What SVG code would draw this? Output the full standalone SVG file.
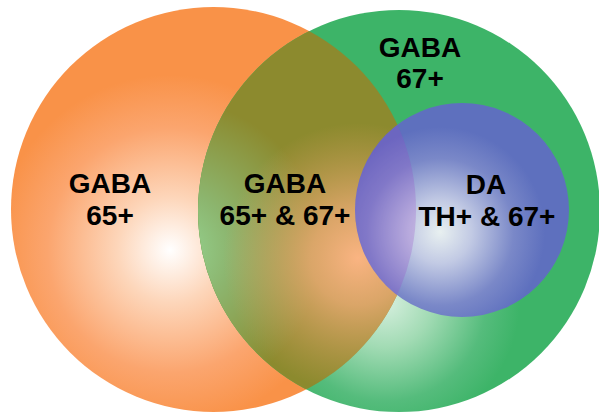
<svg xmlns="http://www.w3.org/2000/svg" width="599" height="413" viewBox="0 0 599 413">
<style>
.lbl{font-family:"Liberation Sans",Arial,sans-serif;font-weight:bold;font-size:28px;fill:#000;text-anchor:middle}
</style>
<defs>
<radialGradient id="gOrange" gradientUnits="userSpaceOnUse" cx="170" cy="250" r="175">
<stop offset="0" stop-color="#FFFFFF"/>
<stop offset="0.3" stop-color="#FDD6BA"/>
<stop offset="0.7" stop-color="#FBA56E"/>
<stop offset="1" stop-color="#F99248"/>
</radialGradient>
<radialGradient id="gGreen" gradientUnits="userSpaceOnUse" cx="385" cy="300" r="135">
<stop offset="0" stop-color="#D8F0E0"/>
<stop offset="0.35" stop-color="#A2DBB4"/>
<stop offset="0.75" stop-color="#55BC7C"/>
<stop offset="1" stop-color="#3DB468"/>
</radialGradient>
<radialGradient id="gBlue" gradientUnits="userSpaceOnUse" cx="440" cy="232" r="105">
<stop offset="0" stop-color="#E8F0F0"/>
<stop offset="0.3" stop-color="#C2CAE4"/>
<stop offset="0.7" stop-color="#7A88C8"/>
<stop offset="1" stop-color="#5E70BE"/>
</radialGradient>
<radialGradient id="gOvA" gradientUnits="userSpaceOnUse" cx="172" cy="250" r="150">
<stop offset="0" stop-color="#98DA98" stop-opacity="1"/>
<stop offset="0.4" stop-color="#8CC88A" stop-opacity="0.7"/>
<stop offset="1" stop-color="#8CC88A" stop-opacity="0"/>
</radialGradient>
<radialGradient id="gOvB" gradientUnits="userSpaceOnUse" cx="358" cy="258" r="135">
<stop offset="0" stop-color="#FAB482" stop-opacity="1"/>
<stop offset="0.35" stop-color="#E8AA72" stop-opacity="0.85"/>
<stop offset="1" stop-color="#D8A060" stop-opacity="0"/>
</radialGradient>
<clipPath id="cOrange"><circle cx="213.5" cy="209.5" r="202.5"/></clipPath>
<clipPath id="cGreen"><circle cx="399" cy="211" r="201"/></clipPath>
</defs>
<g id="orange">
<circle cx="213.5" cy="209.5" r="202.5" fill="url(#gOrange)"/>
</g>
<g id="green">
<circle cx="399" cy="211" r="201" fill="url(#gGreen)"/>
</g>
<g id="overlap" clip-path="url(#cOrange)">
<g clip-path="url(#cGreen)">
<rect x="190" y="0" width="240" height="413" fill="#8C8A2E"/>
<rect x="190" y="0" width="240" height="413" fill="url(#gOvA)"/>
<rect x="190" y="0" width="240" height="413" fill="url(#gOvB)"/>
</g>
</g>
<g id="blue">
<circle cx="462" cy="210" r="107" fill="url(#gBlue)"/>
<circle cx="462" cy="210" r="107" fill="#9646C8" fill-opacity="0.25" clip-path="url(#cOrange)"/>
</g>
<g id="connectors"/>
<g id="labels">
<text class="lbl" x="110" y="193">GABA</text>
<text class="lbl" x="110" y="225">65+</text>
<text class="lbl" x="285" y="193">GABA</text>
<text class="lbl" x="285" y="225">65+ &amp; 67+</text>
<text class="lbl" x="420" y="57">GABA</text>
<text class="lbl" x="420" y="88">67+</text>
<text class="lbl" x="486" y="194">DA</text>
<text class="lbl" x="487" y="226">TH+ &amp; 67+</text>
</g>
</svg>
